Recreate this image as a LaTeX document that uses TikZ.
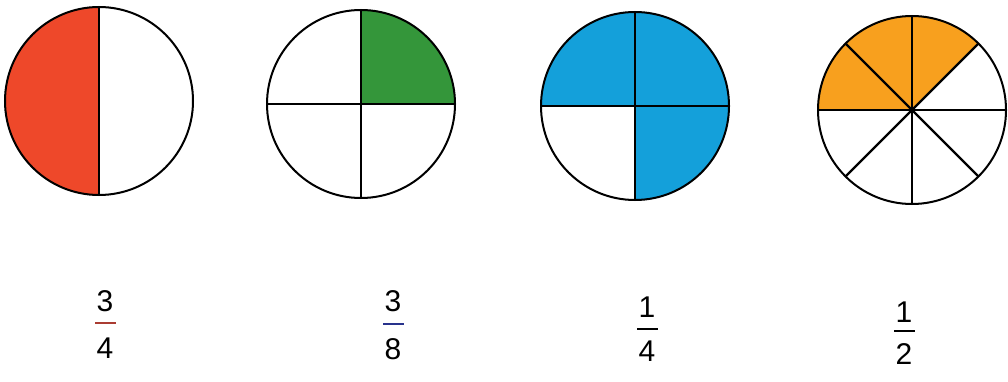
\documentclass[tikz,border=0pt]{standalone}
\usepackage{fontspec}
\setmainfont{Liberation Sans}
\definecolor{cred}{RGB}{238,72,42}
\definecolor{cgreen}{RGB}{52,150,58}
\definecolor{cblue}{RGB}{20,160,218}
\definecolor{corange}{RGB}{248,160,30}
\definecolor{barred}{RGB}{170,60,50}
\definecolor{barblue}{RGB}{40,50,140}
\begin{document}
\begin{tikzpicture}[x=1pt,y=-1pt,
  rim/.style={line width=2pt, draw=black},
  spoke/.style={line width=2.2pt, draw=black},
  digit/.style={inner sep=0pt, font=\fontsize{30}{36}\selectfont},
  fbar/.style={inner sep=0pt, minimum width=21pt, minimum height=2pt, fill=#1}]
\useasboundingbox (0,0) rectangle (1008,382);
\fill[white] (0,0) rectangle (1008,382);

% circle 1: left half red
\coordinate (c1) at (99,101);
\fill[cred] (c1) ++(90:94) arc[start angle=90, end angle=270, radius=94] -- cycle;
\draw[spoke] (c1) ++(0,-94) -- ++(0,188);
\draw[rim] (c1) circle[radius=94];

% circle 2: upper-right quadrant green
\coordinate (c2) at (361,104);
\fill[cgreen] (c2) -- ++(94,0) arc[start angle=0, end angle=-90, radius=94] -- cycle;
\draw[spoke] (c2) ++(0,-94) -- ++(0,188);
\draw[spoke] (c2) ++(-94,0) -- ++(188,0);
\draw[rim] (c2) circle[radius=94];

% circle 3: three quarters blue (all but lower-left)
\coordinate (c3) at (635,106);
\fill[cblue] (c3) -- ++(-94,0) arc[start angle=180, end angle=450, radius=94] -- cycle;
\draw[spoke] (c3) ++(0,-94) -- ++(0,188);
\draw[spoke] (c3) ++(-94,0) -- ++(188,0);
\draw[rim] (c3) circle[radius=94];

% circle 4: eighths, sectors 45..180 orange
\coordinate (c4) at (912,110);
\fill[corange] (c4) -- ++(-94,0) arc[start angle=180, end angle=315, radius=94] -- cycle;
\foreach \a in {0,45,...,315}
  \draw[spoke] (c4) -- ++(\a:94);
\draw[rim] (c4) circle[radius=94];

% fractions
\node[digit] (n1) at (105,301) {3};
\node[fbar=barred] (b1) at (105,323) {};
\node[digit] (d1) at (105,348) {4};

\node[digit] (n2) at (393,301) {3};
\node[fbar=barblue] (b2) at (393,324) {};
\node[digit] (d2) at (393,349) {8};

\node[digit] (n3) at (647,307) {1};
\node[fbar=black] (b3) at (647,329) {};
\node[digit] (d3) at (647,351) {4};

\node[digit] (n4) at (904,312) {1};
\node[fbar=black] (b4) at (904,331) {};
\node[digit] (d4) at (904,354) {2};
\end{tikzpicture}
\end{document}
